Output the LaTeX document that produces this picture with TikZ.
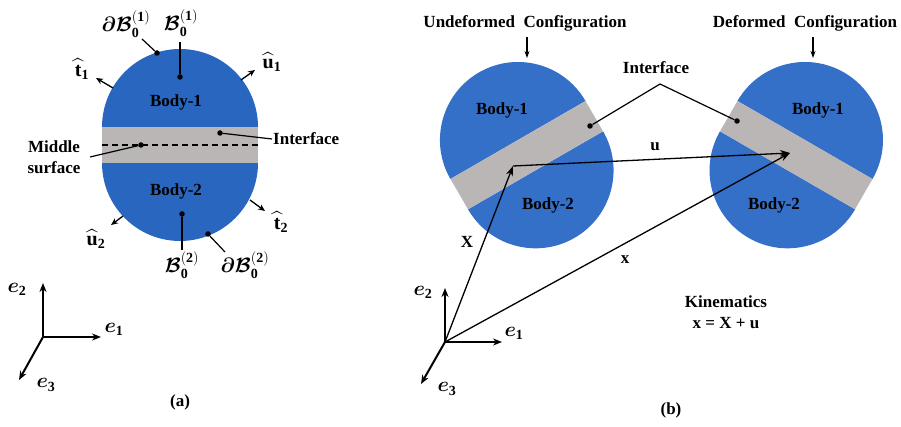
\documentclass[tikz,border=0pt]{standalone}
\usepackage{amsmath}
\usepackage{bm}
\usepackage{fontspec}
\setmainfont{Liberation Serif}
\usetikzlibrary{arrows.meta}
\definecolor{bodyA}{RGB}{40,102,192}
\definecolor{bodyB}{RGB}{52,111,200}
\definecolor{bandgray}{RGB}{187,182,182}
\begin{document}
\begin{tikzpicture}[x=1pt,y=-1pt,
  lbl/.style={font=\bfseries\fontsize{17}{20}\selectfont, inner sep=1pt},
  mth/.style={font=\fontsize{20}{24}\selectfont, inner sep=0pt},
  conn/.style={line width=1.2pt},
  dot/.style={circle, fill=black, inner sep=0pt, minimum size=5.5pt},
  tipline/.style={line width=1.3pt, -{Stealth[length=7pt,width=6pt]}},
  axis/.style={line width=2pt, -{Stealth[length=9pt,width=7pt]}},
  vect/.style={line width=1.3pt, -{Stealth[length=10pt,width=7pt]}},
  down/.style={line width=1.3pt, -{Stealth[length=7pt,width=5pt]}},
]
\useasboundingbox (0,0) rectangle (901,427);

% ---------------- (a) ----------------
\fill[bodyA] (102,127) arc[start angle=180,end angle=360,radius=78] -- cycle;
\fill[bodyA] (258,163) arc[start angle=0,end angle=180,radius=78] -- cycle;
\fill[bandgray] (102,126.6) rectangle (258,163.4);
\draw[line width=1.1pt, dash pattern=on 6pt off 4pt] (102,145) -- (258,145);

\node[lbl] (b1a) at (176,102) {Body-1};
\node[lbl] (b2a) at (176,191) {Body-2};

% top labels
\node[mth] (dB1) at (126,24) {$\bm{\partial}\bm{\mathcal{B}}_{\mathbf 0}^{(\mathbf 1)}$};
\node[mth] (B1) at (181,23) {$\bm{\mathcal{B}}_{\mathbf 0}^{(\mathbf 1)}$};
\node[dot] (dd1) at (157,53) {};
\node[dot] (db1) at (180,77) {};
\coordinate (cdB1) at (142,39);
\coordinate (cB1) at (180,42);
\draw[conn] (cdB1) -- (dd1);
\draw[conn] (cB1) -- (db1);

% bottom labels
\node[mth] (B2) at (182,265) {$\bm{\mathcal{B}}_{\mathbf 0}^{(\mathbf 2)}$};
\node[mth] (dB2) at (245,265) {$\bm{\partial}\bm{\mathcal{B}}_{\mathbf 0}^{(\mathbf 2)}$};
\node[dot] (db2) at (182,214) {};
\node[dot] (dd2) at (208,234) {};
\coordinate (cB2) at (182,250);
\coordinate (cdB2) at (225,252);
\draw[conn] (db2) -- (cB2);
\draw[conn] (dd2) -- (cdB2);

% traction / displacement arrows
\coordinate (t1s) at (113,88);  \coordinate (t1e) at (96,78);
\coordinate (u1s) at (241,80);  \coordinate (u1e) at (255,70);
\coordinate (t2s) at (250,200); \coordinate (t2e) at (265,211);
\coordinate (u2s) at (123,216); \coordinate (u2e) at (111,225);
\draw[tipline] (t1s) -- (t1e);
\draw[tipline] (u1s) -- (u1e);
\draw[tipline] (t2s) -- (t2e);
\draw[tipline] (u2s) -- (u2e);
\node[mth] (t1) at (82,69) {$\widehat{\mathbf{t}}_{\mathbf 1}$};
\node[mth] (u1) at (272,62) {$\widehat{\mathbf{u}}_{\mathbf 1}$};
\node[mth] (t2) at (281,222) {$\widehat{\mathbf{t}}_{\mathbf 2}$};
\node[mth] (u2) at (96,239) {$\widehat{\mathbf{u}}_{\mathbf 2}$};

% interface and middle surface
\node[dot] (dia) at (220,133) {};
\node[lbl, anchor=west] (ifa) at (272,139) {Interface};
\draw[conn] (dia) -- (ifa.west);
\node[dot] (dms) at (141,145) {};
\node[lbl, align=center, font=\bfseries\fontsize{17}{21}\selectfont] (ms) at (54,157) {Middle\\surface};
\coordinate (cms) at (90,157);
\draw[conn] (cms) -- (dms);

% axes (a)
\coordinate (oa) at (43,337);
\coordinate (a2) at (43,283);
\coordinate (a1) at (101,337);
\coordinate (a3) at (19,380);
\draw[axis] (oa) -- (a2);
\draw[axis] (oa) -- (a1);
\draw[axis] (oa) -- (a3);
\node[mth] (ea2) at (17,289) {$\bm{e}_{\mathbf 2}$};
\node[mth] (ea1) at (114,329) {$\bm{e}_{\mathbf 1}$};
\node[mth] (ea3) at (46,385) {$\bm{e}_{\mathbf 3}$};
\node[lbl] (capa) at (180,402) {(a)};

% ---------------- (b) ----------------
% undeformed
\fill[bodyB] (585.5,101) arc[start angle=-30,end angle=-210,radius=78] -- cycle;
\fill[bodyB] (468,209.3) arc[start angle=150,end angle=-30,radius=78] -- cycle;
\fill[bandgray] (450.5,179) -- (585.5,101) -- (603,131.3) -- (468,209.3) -- cycle;
% deformed
\fill[bodyB] (872.5,179) arc[start angle=30,end angle=-150,radius=78] -- cycle;
\fill[bodyB] (720,131.3) arc[start angle=210,end angle=30,radius=78] -- cycle;
\fill[bandgray] (737.5,101) -- (872.5,179) -- (855,209.3) -- (720,131.3) -- cycle;

\node[lbl] (b1u) at (502,110) {Body-1};
\node[lbl] (b2u) at (548,205) {Body-2};
\node[lbl] (b1d) at (818,110) {Body-1};
\node[lbl] (b2d) at (774,205) {Body-2};

\node[lbl] (undef) at (525,23) {Undeformed\ \ Configuration};
\node[lbl] (def) at (805,23) {Deformed\ \ Configuration};
\coordinate (ua) at (527,37); \coordinate (ub) at (527,58);
\coordinate (da) at (813,37); \coordinate (dbb) at (813,58);
\draw[down] (ua) -- (ub);
\draw[down] (da) -- (dbb);

\node[lbl] (ifb) at (656,68) {Interface};
\coordinate (apex) at (660,84);
\node[dot] (diu) at (590,126) {};
\node[dot] (did) at (737,121) {};
\draw[conn] (apex) -- (diu);
\draw[conn] (apex) -- (did);

% vectors
\coordinate (ob) at (445,342);
\coordinate (pX) at (513,166);
\coordinate (px) at (790,153);
\draw[vect] (ob) -- (pX);
\draw[vect] (pX) -- (px);
\draw[vect] (ob) -- (px);
\node[lbl] (lX) at (467,242) {X};
\node[lbl] (lx) at (625,260) {x};
\node[lbl] (lu) at (655,147) {u};

% axes (b)
\coordinate (b2) at (445,288);
\coordinate (b1) at (502,342);
\coordinate (b3) at (421,384);
\draw[axis] (ob) -- (b2);
\draw[axis] (ob) -- (b1);
\draw[axis] (ob) -- (b3);
\node[mth] (eb2) at (423,292) {$\bm{e}_{\mathbf 2}$};
\node[mth] (eb1) at (514,333) {$\bm{e}_{\mathbf 1}$};
\node[mth] (eb3) at (447,389) {$\bm{e}_{\mathbf 3}$};

\node[lbl] (kin) at (726,302) {Kinematics};
\node[lbl] (eq) at (726,323) {x = X + u};
\node[lbl] (capb) at (671,410) {(b)};
\end{tikzpicture}
\end{document}
